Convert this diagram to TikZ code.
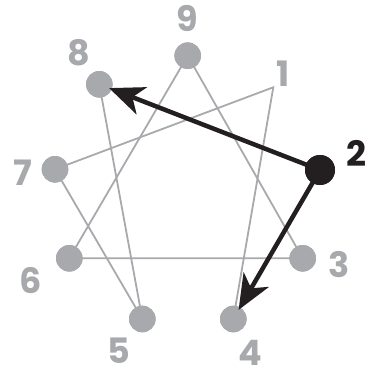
\documentclass[tikz,border=0pt]{standalone}
\usepackage{fontspec}
\setmainfont{Poppins}
\usetikzlibrary{arrows.meta}
\definecolor{enneaGrey}{HTML}{A7A9AC}
\definecolor{enneaBlack}{HTML}{231F20}

\begin{document}
\begin{tikzpicture}[
  x=1pt, y=-1pt,
  font=\fontsize{35}{35}\selectfont\bfseries,
  pt/.style={circle, fill=enneaGrey, minimum size=26.6pt, inner sep=0pt},
  hot/.style={circle, fill=enneaBlack, minimum size=30pt, inner sep=0pt},
  num/.style={text=enneaGrey, inner sep=0pt, anchor=base, text depth=0pt},
  ln/.style={draw=enneaGrey, line width=1.8pt},
  a/.style={-{Stealth[length=35pt, width=29pt, inset=10pt]}, line width=4.5pt, draw=enneaBlack, shorten >=-3pt}
]
\useasboundingbox (0,0) rectangle (372,369);

% points of the figure
\coordinate (p1) at (273.3,87.3);
\node[hot] (p2) at (320,170) {};
\node[pt] (p3) at (302.7,258.3) {};
\node[pt] (p4) at (233.3,319) {};
\node[pt] (p5) at (142.3,319) {};
\node[pt] (p6) at (69.3,258.3) {};
\node[pt] (p7) at (55,169.3) {};
\node[pt] (p8) at (99.3,84.3) {};
\node[pt] (p9) at (187.7,55.7) {};

% grey lines, points again on top
\draw[ln] (p9.center) -- (p3.center) -- (p6.center) -- cycle;
\draw[ln] (p4.center) -- (p1) -- (p7.center) -- (p5.center) -- (p8.center);
\foreach \p in {p3,p4,p5,p6,p7,p8,p9}
  \node[pt] at (\p) {};

\draw[a] (p2.center) -- (p8);
\draw[a] (p2.center) -- (p4);
\node[hot] at (p2) {};

% labels
\node[num] (l9) at (187.5,31.5) {9};
\node[num] (l8) at (79,66) {8};
\node[num] (l1) at (283,86.5) {1};
\node[num, text=enneaBlack] (l2) at (356,166) {2};
\node[num] (l3) at (339,277) {3};
\node[num] (l4) at (250,365) {4};
\node[num] (l5) at (119,363) {5};
\node[num] (l6) at (31,293) {6};
\node[num] (l7) at (23,185) {7};
\end{tikzpicture}
\end{document}
